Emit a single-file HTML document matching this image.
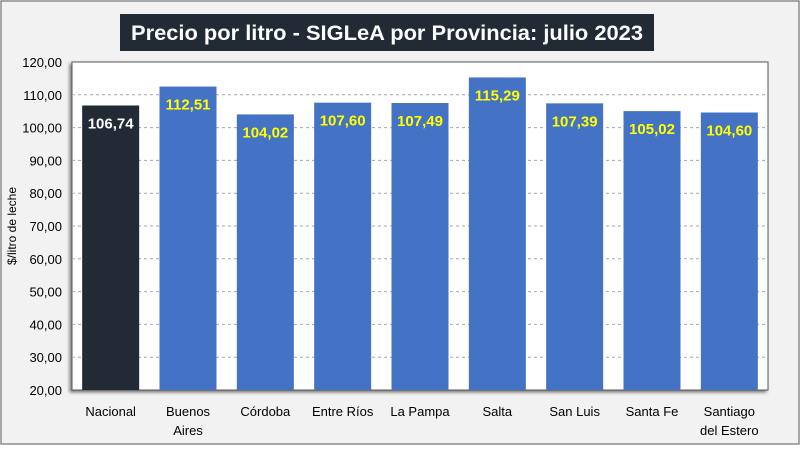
<!DOCTYPE html>
<html><head><meta charset="utf-8"><style>
body{margin:0;width:800px;height:445px;background:#fff;font-family:"Liberation Sans",sans-serif;}
</style></head><body>
<svg width="800" height="445" xmlns="http://www.w3.org/2000/svg">
<defs><filter id="sh" x="-5%" y="-5%" width="110%" height="110%"><feDropShadow dx="-2" dy="2" stdDeviation="1.5" flood-color="#000" flood-opacity="0.5"/></filter></defs>
<rect x="1" y="1" width="798" height="443" fill="#f2f2f2" stroke="#8c8c8c" stroke-width="1.5"/>
<rect x="120" y="14" width="534" height="37" fill="#222a35"/>
<text x="387" y="40" text-anchor="middle" fill="#fff" font-size="21" font-weight="bold" textLength="512" lengthAdjust="spacingAndGlyphs">Precio por litro - SIGLeA por Provincia: julio 2023</text>
<rect x="72" y="62" width="696" height="328" fill="#fff" stroke="#595959" stroke-width="1" filter="url(#sh)"/>
<g id="grid"></g><g id="bars"></g><g id="axes"></g>
<text transform="translate(16,226) rotate(-90)" text-anchor="middle" font-size="12" fill="#000">$/litro de leche</text>
</svg>
<script>
const categories=[["Nacional"],["Buenos","Aires"],["Córdoba"],["Entre Ríos"],["La Pampa"],["Salta"],["San Luis"],["Santa Fe"],["Santiago","del Estero"]];
const values=[106.74,112.51,104.02,107.60,107.49,115.29,107.39,105.02,104.60];
const valueLabels=["106,74","112,51","104,02","107,60","107,49","115,29","107,39","105,02","104,60"];
const yTicks=[20,30,40,50,60,70,80,90,100,110,120];
const NS="http://www.w3.org/2000/svg";
const L=72,R=768,T=62,B=390,yMin=20,yMax=120;
const y=v=>B-(v-yMin)/(yMax-yMin)*(B-T);
const cw=(R-L)/categories.length;
const x=i=>L+cw*i+cw/2;
function mk(tag,attrs,parent,text){const e=document.createElementNS(NS,tag);for(const k in attrs)e.setAttribute(k,attrs[k]);if(text!=null)e.textContent=text;document.getElementById(parent).appendChild(e);return e;}
yTicks.forEach(t=>{
  if(t>yMin&&t<yMax){const g=mk('line',{x1:L,x2:R,y1:y(t),y2:y(t),stroke:'#a6a6a6','stroke-dasharray':'3,3'},'grid');
  
  }
  const lb=mk('text',{x:62,y:y(t)+5,'text-anchor':'end','font-size':13,fill:'#000'},'axes',t.toFixed(2).replace('.',','));
  
  
});
values.forEach((v,i)=>{
  const bw=57;
  const r=mk('rect',{x:x(i)-bw/2,y:y(v),width:bw,height:B-y(v),fill:i===0?'#222a35':'#4472c4'},'bars');
  
  
  const t=mk('text',{x:x(i),y:y(v)+23,'text-anchor':'middle','font-size':15,'font-weight':'bold',fill:i===0?'#fff':'#ffff00'},'bars',valueLabels[i]);
  
  
  categories[i].forEach((ln,j)=>{
    const c=mk('text',{x:x(i),y:416+j*19,'text-anchor':'middle','font-size':13,fill:'#000'},'axes',ln);
    
    
  });
});
</script>
</body></html>
